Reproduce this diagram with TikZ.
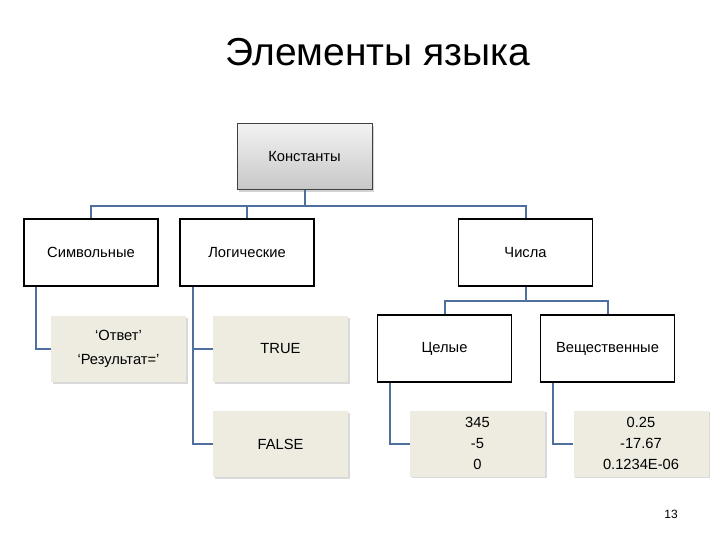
\documentclass[tikz,border=0pt]{standalone}
\usepackage{fontspec}
\setmainfont{Liberation Sans}
\usetikzlibrary{shadows,calc}
\definecolor{conn}{HTML}{4F6F9F}
\definecolor{leaf}{HTML}{EEECE1}
\begin{document}
\begin{tikzpicture}[x=1pt,y=-1pt,
  topbox/.style={draw=black!75,line width=1pt,top color=black!5,bottom color=black!22,
    minimum width=135pt,minimum height=66pt,inner sep=0pt,
    drop shadow={opacity=0.35,shadow xshift=2pt,shadow yshift=-2pt},
    font=\fontsize{14.7}{17}\selectfont},
  midbox/.style={draw=black,line width=1.5pt,fill=white,minimum width=134pt,minimum height=67pt,
    inner sep=0pt,font=\fontsize{14.7}{17}\selectfont},
  leafbox/.style={fill=leaf,minimum width=135pt,minimum height=66pt,inner sep=0pt,
    drop shadow={opacity=0.3,shadow xshift=1.5pt,shadow yshift=-1.5pt},
    align=center,font=\fontsize{14.7}{17}\selectfont},
  link/.style={draw=conn,line width=2pt}]
\useasboundingbox (0,0) rectangle (720,540);
\node[font=\fontsize{39}{46}\selectfont] (title) at (378,52) {Элементы языка};
\node[topbox] (K) at (304.5,157) {Константы};
\node[midbox] (S) at (91,252.5) {Символьные};
\node[midbox] (L) at (247,252.5) {Логические};
\node[midbox] (N) at (525.5,252.5) {Числа};
\node[leafbox,font=\fontsize{14.7}{24}\selectfont] (O) at (118.5,349) {‘Ответ’\\‘Результат=’};
\node[leafbox] (T) at (280.5,349) {TRUE};
\node[leafbox] (F) at (280.5,444) {FALSE};
\node[midbox] (I) at (444.5,348.5) {Целые};
\node[midbox] (R) at (607.5,348.5) {Вещественные};
\node[leafbox,font=\fontsize{14.7}{21}\selectfont] (IV) at (477.5,443.5) {345\\-5\\0};
\node[leafbox,font=\fontsize{14.7}{21}\selectfont] (RV) at (641,443.5) {0.25\\-17.67\\0.1234E-06};
\node[font=\fontsize{12}{14}\selectfont] (pg) at (671,514) {13};
% connectors
\draw[link] (K.south) -- ++(0,16) -| (S.north);
\draw[link] (K.south) -- ++(0,16) -| (L.north);
\draw[link] (K.south) -- ++(0,16) -| (N.north);
\draw[link] (N.south) -- ++(0,14) -| (I.north);
\draw[link] (N.south) -- ++(0,14) -| (R.north);
\draw[link] ($(S.south west)+(13,0)$) |- (O.west);
\draw[link] ($(L.south west)+(14,0)$) |- (T.west);
\draw[link] ($(L.south west)+(14,0)$) |- (F.west);
\draw[link] ($(I.south west)+(13,0)$) |- (IV.west);
\draw[link] ($(R.south west)+(13,0)$) |- (RV.west);
\end{tikzpicture}
\end{document}
